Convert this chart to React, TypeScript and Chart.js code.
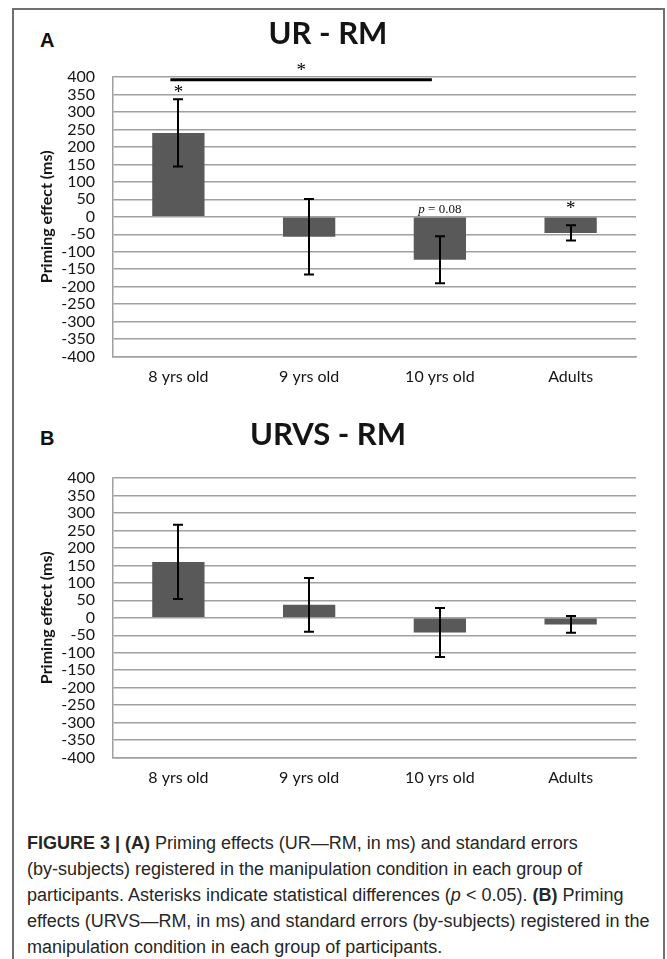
import React, { useEffect, useRef } from 'react';
import { Chart, registerables } from 'chart.js';

Chart.register(...registerables);

// ---------- data ----------
const categories: string[] = ['8 yrs old', '9 yrs old', '10 yrs old', 'Adults'];

const urRmMeans: number[] = [240, -57, -123, -46];
const urRmErrors: number[] = [96, 108, 67, 22];

const urvsRmMeans: number[] = [160, 37, -42, -19];
const urvsRmErrors: number[] = [106, 77, 70, 24];

const yMin = -400;
const yMax = 400;
const yStep = 50;

// significance marks for panel A (category index, value)
const urRmStarCats: number[] = [0, 3];
const urRmStarValues: number[] = [365, 33];
const urRmBracketCats: number[] = [0, 2];
const urRmBracketValue = 392;
const urRmBracketStarValue = 428;
const urRmPLabelCat = 2;
const urRmPLabelValue = 22;
const urRmPLabelText = '= 0.08';

const BAR_COLOR = '#595959';
const GRID_COLOR = '#a0a0a0';
const TEXT_COLOR = '#141414';

function errorBarPlugin(errors: number[]) {
  return {
    id: 'errorBars',
    afterDatasetsDraw(chart: any) {
      const meta = chart.getDatasetMeta(0);
      const ys = chart.scales.y;
      const vals = chart.data.datasets[0].data as number[];
      const ctx = chart.ctx;
      ctx.save();
      ctx.strokeStyle = '#000';
      ctx.lineWidth = 2;
      meta.data.forEach((bar: any, i: number) => {
        const x = Math.round(bar.x);
        const top = ys.getPixelForValue(vals[i] + errors[i]);
        const bot = ys.getPixelForValue(vals[i] - errors[i]);
        ctx.beginPath();
        ctx.moveTo(x, top);
        ctx.lineTo(x, bot);
        ctx.moveTo(x - 5, top);
        ctx.lineTo(x + 5, top);
        ctx.moveTo(x - 5, bot);
        ctx.lineTo(x + 5, bot);
        ctx.stroke();
      });
      ctx.restore();
    },
  };
}

function drawStar(ctx: CanvasRenderingContext2D, x: number, yCenter: number) {
  ctx.font = '19px "Liberation Serif", "DejaVu Serif", serif';
  ctx.textAlign = 'center';
  ctx.textBaseline = 'alphabetic';
  ctx.fillStyle = '#000';
  ctx.fillText('*', x, yCenter + 9);
}

const significancePlugin = {
  id: 'significance',
  afterDatasetsDraw(chart: any) {
    const xs = chart.scales.x;
    const ys = chart.scales.y;
    const ctx = chart.ctx as CanvasRenderingContext2D;
    ctx.save();
    urRmStarCats.forEach((c, i) => {
      drawStar(ctx, xs.getPixelForValue(c), ys.getPixelForValue(urRmStarValues[i]));
    });
    const x1 = xs.getPixelForValue(urRmBracketCats[0]) - 8;
    const x2 = xs.getPixelForValue(urRmBracketCats[1]) - 8;
    const yl = ys.getPixelForValue(urRmBracketValue);
    ctx.strokeStyle = '#000';
    ctx.lineWidth = 3;
    ctx.beginPath();
    ctx.moveTo(x1, yl);
    ctx.lineTo(x2, yl);
    ctx.stroke();
    drawStar(ctx, (x1 + x2) / 2, ys.getPixelForValue(urRmBracketStarValue));
    const px = xs.getPixelForValue(urRmPLabelCat);
    const py = ys.getPixelForValue(urRmPLabelValue);
    const italic = 'italic 13px "Liberation Serif", "DejaVu Serif", serif';
    const regular = '13px "Liberation Serif", "DejaVu Serif", serif';
    ctx.font = italic;
    const wP = ctx.measureText('p ').width;
    ctx.font = regular;
    const wR = ctx.measureText(urRmPLabelText).width;
    const start = px - (wP + wR) / 2;
    ctx.textAlign = 'left';
    ctx.textBaseline = 'middle';
    ctx.fillStyle = '#111';
    ctx.font = italic;
    ctx.fillText('p', start, py);
    ctx.font = regular;
    ctx.fillText(urRmPLabelText, start + wP, py);
    ctx.restore();
  },
};

interface PanelProps {
  title: string;
  means: number[];
  errors: number[];
  top: number;
  annotate: boolean;
}

function Panel({ title, means, errors, top, annotate }: PanelProps) {
  const ref = useRef<HTMLCanvasElement | null>(null);
  useEffect(() => {
    if (!ref.current) return;
    const plugins: any[] = [errorBarPlugin(errors)];
    if (annotate) plugins.push(significancePlugin);
    const chart = new Chart(ref.current, {
      type: 'bar',
      data: {
        labels: categories,
        datasets: [
          {
            data: means,
            backgroundColor: BAR_COLOR,
            borderWidth: 0,
            barPercentage: 0.4,
            categoryPercentage: 1.0,
          },
        ],
      },
      options: {
        animation: false,
        responsive: false,
        devicePixelRatio: 1,
        layout: { padding: { left: 7, right: 7, top: 0, bottom: 10.4 } },
        plugins: {
          legend: { display: false },
          tooltip: { enabled: false },
          title: {
            display: true,
            text: title,
            color: TEXT_COLOR,
            font: { family: 'Lato', size: 31, weight: 'bold' },
            padding: { top: 3.4, bottom: 24.4 },
          },
        },
        scales: {
          x: {
            grid: { display: false, drawTicks: false },
            border: { display: true, color: GRID_COLOR, width: 1.5 },
            ticks: {
              padding: 10.4,
              color: TEXT_COLOR,
              font: { family: 'Lato', size: 16 },
              maxRotation: 0,
              autoSkip: false,
            },
          },
          y: {
            min: yMin,
            max: yMax,
            ticks: {
              stepSize: yStep,
              autoSkip: false,
              padding: 18,
              color: TEXT_COLOR,
              font: { family: 'Lato', size: 16 },
            },
            grid: { color: GRID_COLOR, lineWidth: 1.5, drawTicks: false },
            border: { display: true, color: GRID_COLOR, width: 1.5 },
            title: {
              display: true,
              text: 'Priming effect (ms)',
              color: TEXT_COLOR,
              font: { family: 'Lato', size: 16, weight: 'bold' },
              padding: { top: 17.4, bottom: 0 },
            },
            afterFit: (s: any) => {
              s.width = 93;
            },
          },
        },
      },
      plugins,
    });
    return () => chart.destroy();
  }, [title, means, errors, annotate]);
  return (
    <canvas
      ref={ref}
      width={630}
      height={395}
      style={{ position: 'absolute', left: 13, top, width: 630, height: 395 }}
    />
  );
}

const panelLetterStyle: React.CSSProperties = {
  position: 'absolute',
  left: 40,
  fontFamily: '"Liberation Sans", Arial, sans-serif',
  fontWeight: 'bold',
  fontSize: 20,
  lineHeight: '24px',
  color: '#111',
};

export default function App() {
  return (
    <div
      style={{
        position: 'absolute',
        left: 0,
        top: 0,
        width: 667,
        height: 959,
        overflow: 'hidden',
        background: '#fff',
      }}
    >
      <div
        style={{
          position: 'absolute',
          left: 12,
          top: 8,
          width: 649,
          height: 1000,
          border: '2px solid #6f6f6f',
          borderBottom: 'none',
        }}
      />
      <div style={{ ...panelLetterStyle, top: 28 }}>A</div>
      <Panel title="UR - RM" means={urRmMeans} errors={urRmErrors} top={12} annotate={true} />
      <div style={{ ...panelLetterStyle, top: 426 }}>B</div>
      <Panel title="URVS - RM" means={urvsRmMeans} errors={urvsRmErrors} top={413} annotate={false} />
      <div
        style={{
          position: 'absolute',
          left: 27,
          top: 830,
          fontFamily: '"Liberation Sans", Arial, sans-serif',
          fontSize: 18,
          lineHeight: '26px',
          color: '#262626',
          whiteSpace: 'nowrap',
        }}
      >
        <b>FIGURE 3 | (A)</b> Priming effects (UR—RM, in ms) and standard errors
        <br />
        (by-subjects) registered in the manipulation condition in each group of
        <br />
        participants. Asterisks indicate statistical differences (<i>p</i> &lt; 0.05). <b>(B)</b> Priming
        <br />
        effects (URVS—RM, in ms) and standard errors (by-subjects) registered in the
        <br />
        manipulation condition in each group of participants.
      </div>
    </div>
  );
}
